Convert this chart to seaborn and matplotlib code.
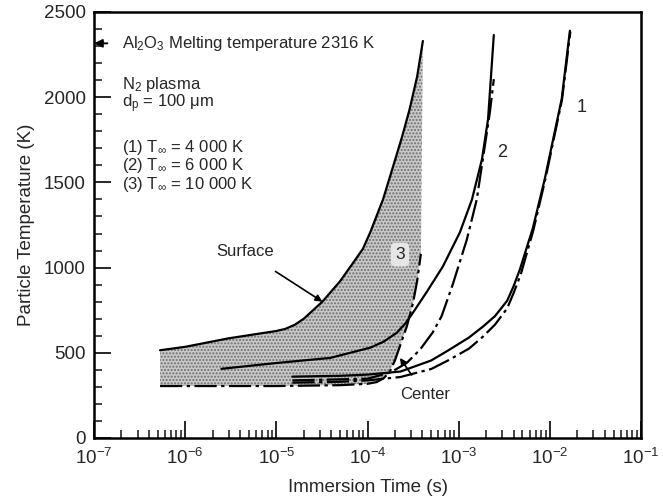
import numpy as np
import seaborn as sns
import matplotlib.pyplot as plt
from matplotlib.ticker import LogLocator, MultipleLocator, NullFormatter

# curve 3 (T_inf = 10 000 K)
t_surf3 = [5.3e-7, 1e-6, 3e-6, 1e-5, 1.25e-5, 1.6e-5, 2e-5, 3.2e-5, 5e-5, 7e-5, 8.9e-5, 1.07e-4, 1.48e-4, 1.9e-4, 2.4e-4, 2.9e-4, 3.5e-4, 4.05e-4]
T_surf3 = [515, 535, 585, 628, 640, 665, 700, 800, 920, 1030, 1110, 1206, 1400, 1590, 1770, 1930, 2120, 2330]
t_cent3 = [5.3e-7, 1e-5, 5e-5, 1e-4, 1.26e-4, 1.5e-4, 1.76e-4, 2e-4, 2.27e-4, 2.7e-4, 3.15e-4, 3.5e-4, 3.85e-4]
T_cent3 = [305, 305, 310, 318, 328, 350, 390, 455, 540, 655, 790, 920, 1080]

# curve 2 (T_inf = 6 000 K)
t_surf2 = [2.5e-6, 1e-5, 3.9e-5, 1.07e-4, 1.5e-4, 2.1e-4, 2.6e-4, 3.15e-4, 4.5e-4, 6.7e-4, 1.03e-3, 1.4e-3, 1.8e-3, 2.1e-3, 2.43e-3]
T_surf2 = [406, 440, 470, 530, 565, 618, 672, 735, 860, 1006, 1206, 1400, 1635, 1870, 2365]
t_cent2 = [1.5e-5, 1e-4, 1.8e-4, 2.7e-4, 3.76e-4, 5.2e-4, 6.5e-4, 8.6e-4, 1.23e-3, 1.58e-3, 1.84e-3, 2.2e-3, 2.43e-3]
T_cent2 = [338, 348, 385, 441, 518, 620, 715, 900, 1165, 1400, 1635, 1912, 2106]

# curve 1 (T_inf = 4 000 K)
t_surf1 = [1.5e-5, 5e-5, 1e-4, 2.3e-4, 5e-4, 7.9e-4, 1.3e-3, 1.84e-3, 2.5e-3, 3.4e-3, 4e-3, 4.7e-3, 6.5e-3, 8.8e-3, 1.07e-2, 1.35e-2, 1.66e-2]
T_surf1 = [360, 365, 372, 390, 455, 518, 590, 653, 715, 805, 890, 990, 1230, 1520, 1735, 1990, 2390]
t_cent1 = [1.5e-5, 5e-5, 1e-4, 2.3e-4, 5e-4, 7.9e-4, 1.3e-3, 1.84e-3, 2.5e-3, 3.4e-3, 4e-3, 4.8e-3, 6.6e-3, 8.9e-3, 1.08e-2, 1.36e-2, 1.68e-2]
T_cent1 = [325, 330, 338, 358, 405, 459, 525, 594, 665, 760, 850, 960, 1220, 1515, 1730, 1985, 2385]

T_melt = 2316
dashdot = (0, (10, 2, 1.5, 2))

sns.set_style("ticks")
plt.rcParams['font.family'] = ['Liberation Sans', 'DejaVu Sans']
plt.rcParams['mathtext.fontset'] = 'custom'
plt.rcParams['mathtext.rm'] = 'Liberation Sans'
plt.rcParams['mathtext.it'] = 'Liberation Sans:italic'

fig = plt.figure(figsize=(6.63, 5.0), dpi=100)
ax = fig.add_axes([0.1418, 0.124, 0.825, 0.852])
ax.set_xscale('log')

# shaded band between surface and centre of curve 3
poly_t = list(t_surf3) + list(t_cent3[::-1])
poly_T = list(T_surf3) + list(T_cent3[::-1])
ax.fill(poly_t, poly_T, facecolor='#c9c9c9', edgecolor='#6e6e6e', hatch='.....', linewidth=0, zorder=1)

curves = [
    (t_surf3, T_surf3, '-'), (t_cent3, T_cent3, dashdot),
    (t_surf2, T_surf2, '-'), (t_cent2, T_cent2, dashdot),
    (t_surf1, T_surf1, '-'), (t_cent1, T_cent1, dashdot),
]
for tt, TT, ls in curves:
    sns.lineplot(x=tt, y=TT, ax=ax, color='black', linestyle=ls, linewidth=1.6,
                 sort=False, estimator=None, zorder=3)

ax.set_xlim(1e-7, 1e-1)
ax.set_ylim(0, 2500)
ax.xaxis.set_major_locator(LogLocator(base=10, numticks=10))
ax.xaxis.set_minor_locator(LogLocator(base=10, subs=np.arange(2, 10), numticks=20))
ax.xaxis.set_minor_formatter(NullFormatter())
ax.yaxis.set_major_locator(MultipleLocator(500))
ax.yaxis.set_minor_locator(MultipleLocator(100))
ax.tick_params(which='both', direction='in', labelsize=13.5, top=False, right=False)
ax.tick_params(which='major', length=12, width=1.4)
ax.tick_params(axis='x', which='major', pad=7)
ax.tick_params(axis='y', which='major', pad=6)
ax.tick_params(which='minor', length=6, width=1.2)
for s in ax.spines.values():
    s.set_linewidth(1.8)
    s.set_color('black')

ax.set_xlabel('Immersion Time (s)', fontsize=13.5, labelpad=8)
ax.set_ylabel('Particle Temperature (K)', fontsize=13.5, labelpad=6)

# annotations
ax.annotate('', xy=(1.0e-7, T_melt), xytext=(1.4e-7, T_melt),
            arrowprops=dict(arrowstyle='-|>', color='black', lw=1.4, mutation_scale=12,
                            shrinkA=0, shrinkB=0))
ax.text(2.05e-7, T_melt, 'Al$_2$O$_3$ Melting temperature 2316 K', fontsize=12, va='center')
ax.text(2.05e-7, 2076, 'N$_2$ plasma', fontsize=12, va='center')
ax.text(2.05e-7, 1959, 'd$_\\mathregular{p}$ = 100 μm', fontsize=12, va='center')
ax.text(2.05e-7, 1706, '(1) T$_\\infty$ = 4 000 K', fontsize=12, va='center')
ax.text(2.05e-7, 1597, '(2) T$_\\infty$ = 6 000 K', fontsize=12, va='center')
ax.text(2.05e-7, 1488, '(3) T$_\\infty$ = 10 000 K', fontsize=12, va='center')

ax.annotate('Surface', xy=(3.2e-5, 800), xytext=(4.5e-6, 1094), fontsize=12,
            ha='center', va='center',
            arrowprops=dict(arrowstyle='-|>', color='black', lw=1.2, mutation_scale=10,
                            shrinkA=12, shrinkB=0))
ax.annotate('Center', xy=(2.27e-4, 470), xytext=(4.3e-4, 253), fontsize=12,
            ha='center', va='center',
            arrowprops=dict(arrowstyle='-|>', color='black', lw=1.2, mutation_scale=10,
                            shrinkA=8, shrinkB=0))
ax.text(2.27e-4, 1076, '3', fontsize=12.5, ha='center', va='center', zorder=4,
        bbox=dict(boxstyle='round,pad=0.25', facecolor='#e6e6e6', edgecolor='none'))
ax.text(2.97e-3, 1676, '2', fontsize=13, ha='center', va='center')
ax.text(2.24e-2, 1941, '1', fontsize=13, ha='center', va='center')

fig.savefig('out.png', dpi=100)
